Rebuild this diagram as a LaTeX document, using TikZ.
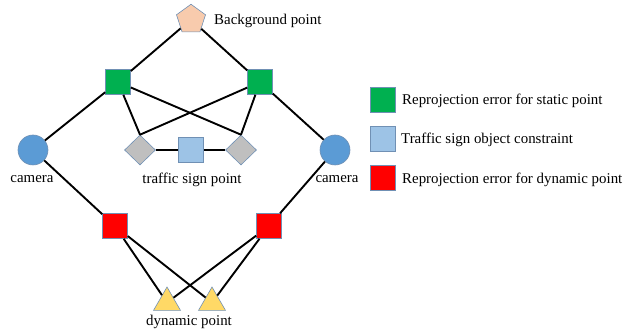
\documentclass[tikz,border=0pt]{standalone}
\usepackage{fontspec}
\setmainfont{Liberation Serif}
\usetikzlibrary{shapes.geometric}
\definecolor{outl}{HTML}{7090B4}
\definecolor{gsq}{HTML}{00B050}
\definecolor{bsq}{HTML}{9DC3E6}
\definecolor{rsq}{HTML}{FF0000}
\definecolor{cam}{HTML}{5B9BD5}
\definecolor{dia}{HTML}{BFBFBF}
\definecolor{pen}{HTML}{F8CBAD}
\definecolor{tri}{HTML}{FFD966}
\begin{document}
\begin{tikzpicture}[x=1pt,y=-1pt,
  every node/.style={font=\fontsize{14.9}{18}\selectfont, inner sep=0pt},
  factor/.style={rectangle, draw=outl, line width=0.6pt, minimum size=25pt},
  camnode/.style={circle, fill=cam, draw=outl, line width=0.6pt, minimum size=30pt},
  signpt/.style={diamond, fill=dia, draw=outl, line width=0.6pt, minimum width=31pt, minimum height=30pt},
  bgpt/.style={regular polygon, regular polygon sides=5, fill=pen, draw=outl, line width=0.6pt, minimum size=30.5pt},
  dynpt/.style={regular polygon, regular polygon sides=3, fill=tri, draw=outl, line width=0.6pt, minimum size=31.2pt},
  link/.style={line width=1.9pt, black}]
\path[use as bounding box] (0,0) rectangle (624,331);

% variables and factors
\node[bgpt] (bg) at (191,19.5) {};
\node[anchor=west] (bglab) at (214,21) {Background point};

\node[factor, fill=gsq] (gL) at (118,82) {};
\node[factor, fill=gsq] (gR) at (260,82) {};

\node[camnode] (cL) at (33,150) {};
\node[camnode] (cR) at (335,150) {};
\node (cLlab) at (32,179) {camera};
\node (cRlab) at (337,179) {camera};

\node[signpt] (dL) at (140,150) {};
\node[signpt] (dR) at (241,150) {};
\node[factor, fill=bsq] (ts) at (191,150) {};
\node (tslab) at (192,180) {traffic sign point};

\node[factor, fill=rsq] (rL) at (115,226) {};
\node[factor, fill=rsq] (rR) at (269,226) {};

\node[dynpt] (tL) at (167,302.6) {};
\node[dynpt] (tR) at (212,302.6) {};
\node (dynlab) at (189,322) {dynamic point};

% connections
\draw[link] (bg) -- (gL);
\draw[link] (bg) -- (gR);
\draw[link] (gL) -- (cL);
\draw[link] (gR) -- (cR);
\draw[link] (gL) -- (dL.north);
\draw[link] (gL) -- (dR.north);
\draw[link] (gR) -- (dL.north);
\draw[link] (gR) -- (dR.north);
\draw[link] (dL) -- (ts);
\draw[link] (ts) -- (dR);
\draw[link] (cL) -- (rL);
\draw[link] (cR) -- (rR);
\draw[link] (rL) -- (tL);
\draw[link] (rL) -- (tR);
\draw[link] (rR) -- (tL);
\draw[link] (rR) -- (tR);

% legend
\node[factor, fill=gsq] (k1) at (383,100) {};
\node[factor, fill=bsq] (k2) at (383,139) {};
\node[factor, fill=rsq] (k3) at (383,178) {};
\node[anchor=west] (k1lab) at (402,101) {Reprojection error for static point};
\node[anchor=west] (k2lab) at (401,140) {Traffic sign object constraint};
\node[anchor=west] (k3lab) at (402,180) {Reprojection error for dynamic point};
\end{tikzpicture}
\end{document}
